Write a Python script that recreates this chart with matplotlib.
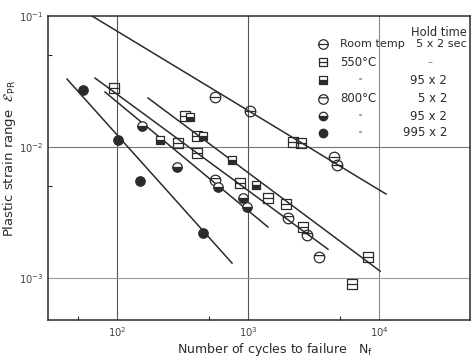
import numpy as np
import matplotlib
matplotlib.use("Agg")
import matplotlib.pyplot as plt
from matplotlib.path import Path
from matplotlib.lines import Line2D
from matplotlib.ticker import FixedLocator, NullFormatter

plt.rcParams['font.family'] = ['DejaVu Sans']
plt.rcParams['mathtext.fontset'] = 'dejavusans'

INK = '#2b2b2b'

# ---- data: cycles to failure (N_f) and plastic strain range ----
rt_n   = [560, 1036, 4530, 4780]
rt_e   = [0.0241, 0.0188, 0.00839, 0.00729]

s550_n = [95, 292, 408, 869, 1421, 1950, 2630, 8240, 2206, 2540, 330, 408, 6220]
s550_e = [0.0282, 0.01074, 0.0090, 0.00531, 0.00408, 0.00367, 0.00245,
          0.00145, 0.01091, 0.01073, 0.01726, 0.01213, 0.00090]

s550h_n = [213, 361, 453, 755, 1151]
s550h_e = [0.0113, 0.01694, 0.01213, 0.00796, 0.00513]

s800_n = [560, 2020, 2820, 3484]
s800_e = [0.0056, 0.00287, 0.00213, 0.00145]

s800h_n = [155, 287, 590, 916, 983]
s800h_e = [0.01445, 0.00704, 0.00495, 0.00408, 0.00348]

s995_n = [55, 101.8, 150, 453]
s995_e = [0.0272, 0.0113, 0.0055, 0.00221]

# fitted life lines: (N start, N end), (strain start, strain end)
fit_lines = [
    ((64.4, 11300), (0.100, 0.00438)),    # room temperature
    ((172.5, 10190), (0.02366, 0.00113)), # 550 C
    ((67.9, 4080), (0.0336, 0.00166)),    # 550 C / 800 C short hold
    ((80.9, 1421), (0.0263, 0.00245)),    # 800 C long hold
    ((41.5, 755), (0.0330, 0.00130)),     # 995 x 2 hold
]

# ---- marker shapes ----
M, L, C = Path.MOVETO, Path.LINETO, Path.CLOSEPOLY
bar_mid = Path([[-1, 0], [1, 0]], [M, L])
bar_hi = Path([[-0.93, 0.36], [0.93, 0.36]], [M, L])
square = Path([[-1, -1], [1, -1], [1, 1], [-1, 1], [-1, -1]], [M, L, L, L, C])
barred_circle = Path.make_compound_path(Path.unit_circle(), bar_mid)
barred_circle_hi = Path.make_compound_path(Path.unit_circle(), bar_hi)
barred_square = Path.make_compound_path(square, bar_mid)

styles = {
    'rt':    dict(marker=barred_circle, ms=7.6, mfc='none', mec=INK, mew=0.9),
    's550':  dict(marker=barred_square, ms=6.8, mfc='none', mec=INK, mew=0.9),
    's550h': dict(marker='s', ms=6.0, fillstyle='bottom', mfc=INK,
                  mfcalt='white', mec=INK, mew=0.9),
    's800':  dict(marker=barred_circle_hi, ms=7.6, mfc='none', mec=INK, mew=0.9),
    's800h': dict(marker='o', ms=6.8, fillstyle='bottom', mfc=INK,
                  mfcalt='white', mec=INK, mew=0.9),
    's995':  dict(marker='o', ms=6.8, mfc=INK, mec=INK, mew=0.9),
}

W, H = 471, 360
fig = plt.figure(figsize=(W / 100, H / 100), dpi=100)
ax = fig.add_axes([48 / W, 1 - 320 / H, 422 / W, 304 / H])
ax.set_xscale('log')
ax.set_yscale('log')
ax.set_xlim(29.7, 4.95e4)
ax.set_ylim(10 ** -3.32, 10 ** -1.0)

# decade grid
for xv, col in [(1e2, '#555555'), (1e3, '#555555'), (1e4, '#8a8a8a')]:
    ax.axvline(xv, color=col, lw=0.8, zorder=1)
for yv, col in [(1e-2, '#777777'), (1e-3, '#9a9a9a')]:
    ax.axhline(yv, color=col, lw=0.8, zorder=1)

for (nx, ey) in fit_lines:
    ax.plot(nx, ey, color=INK, lw=1.1, zorder=2)

series = [('rt', rt_n, rt_e), ('s550', s550_n, s550_e), ('s550h', s550h_n, s550h_e),
          ('s800', s800_n, s800_e), ('s800h', s800h_n, s800h_e), ('s995', s995_n, s995_e)]
for key, n, e in series:
    ax.plot(n, e, ls='none', zorder=3, **styles[key])

# ticks and labels
ax.xaxis.set_major_locator(FixedLocator([1e2, 1e3, 1e4]))
ax.yaxis.set_major_locator(FixedLocator([1e-3, 1e-2, 1e-1]))
ax.xaxis.set_minor_locator(FixedLocator([50, 500, 5000]))
ax.yaxis.set_minor_locator(FixedLocator([5e-3, 5e-2]))
ax.xaxis.set_minor_formatter(NullFormatter())
ax.yaxis.set_minor_formatter(NullFormatter())
ax.tick_params(which='major', length=0, labelsize=7.2, labelcolor='#444444')
ax.tick_params(axis='x', which='major', pad=4)
ax.tick_params(axis='y', which='major', pad=3)
ax.tick_params(which='minor', direction='in', length=3, width=0.8, color=INK)
for s in ax.spines.values():
    s.set_color(INK)
    s.set_linewidth(1.1)

fig.text(10 / W, 1 - 158 / H, r'Plastic strain range  $\mathcal{E}_{\mathrm{PR}}$',
         rotation=90, ha='center', va='center', fontsize=9.5, color=INK)
fig.text(275 / W, 1 - 350 / H, r'Number of cycles to failure   N$_{\mathrm{f}}$',
         ha='center', va='center', fontsize=9, color=INK)

# key
def fx(px):
    return px / W

def fy(py):
    return 1 - py / H

fig.text(fx(467), fy(32), 'Hold time', ha='right', va='center', fontsize=8.3, color=INK)
key_rows = [
    ('rt', 44, 'Room temp', '', '5 x 2 sec'),
    ('s550', 62, '550°C', '', '\u2013'),
    ('s550h', 80, '', '"', '95 x 2'),
    ('s800', 99, '800°C', '', '5 x 2'),
    ('s800h', 116, '', '"', '95 x 2'),
    ('s995', 133, '', '"', '995 x 2'),
]
for key, py, name, ditto, hold in key_rows:
    st = dict(styles[key])
    st['ms'] = st['ms'] * 0.9
    fig.add_artist(Line2D([fx(323)], [fy(py)], transform=fig.transFigure, ls='none', **st))
    if name:
        fs = 8.1 if key == 'rt' else 8.5
        fig.text(fx(340), fy(py), name, ha='left', va='center', fontsize=fs, color=INK)
    if ditto:
        fig.text(fx(360), fy(py), ditto, ha='center', va='center', fontsize=5, color=INK)
    if key == 'rt':
        fig.text(fx(467), fy(py), hold, ha='right', va='center', fontsize=8.1, color=INK)
    elif key == 's550':
        fig.text(fx(430), fy(py), hold, ha='center', va='center', fontsize=7, color='#777777')
    else:
        fig.text(fx(447), fy(py), hold, ha='right', va='center', fontsize=8.5, color=INK)

fig.savefig('out.png', dpi=100, facecolor='white')
